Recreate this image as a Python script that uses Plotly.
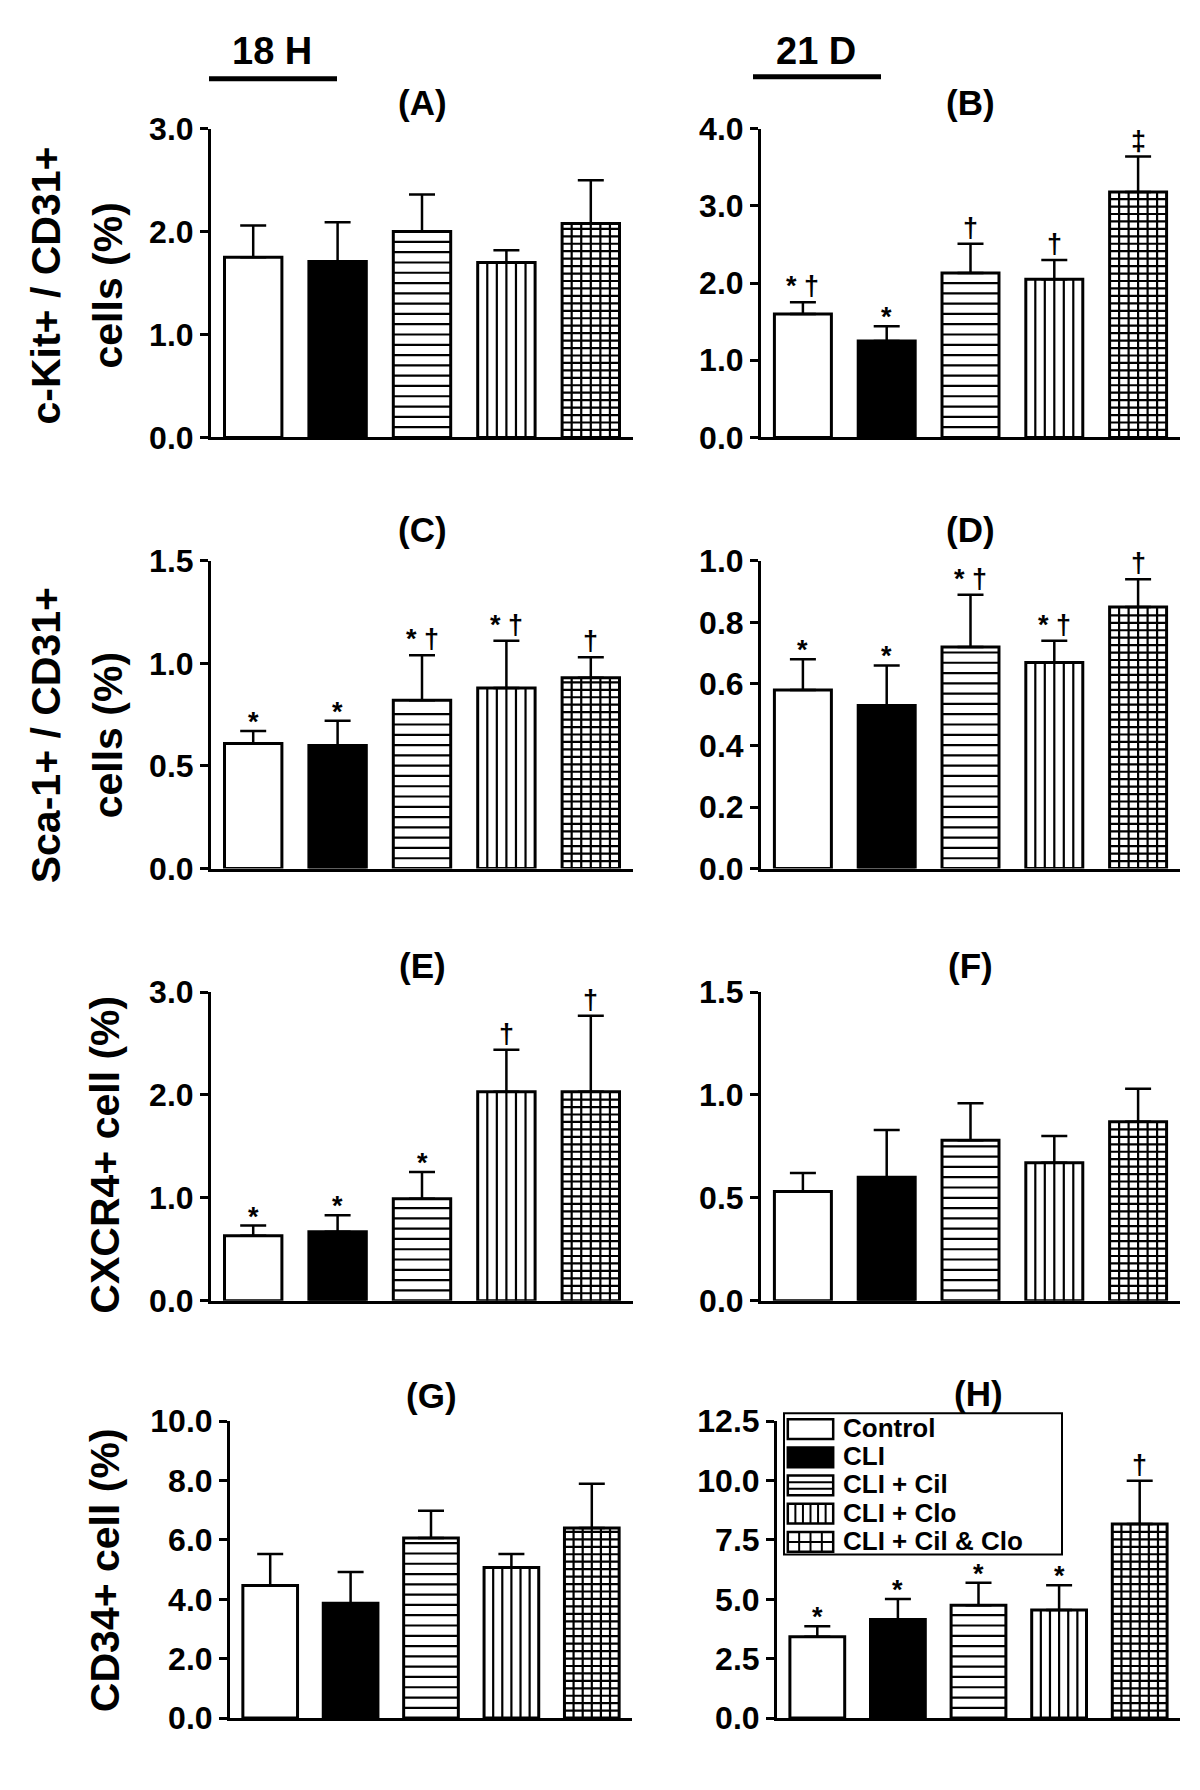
import plotly.graph_objects as go

# ---------------- data ----------------
groups = ["Control", "CLI", "CLI + Cil", "CLI + Clo", "CLI + Cil & Clo"]

A_mean = [1.75, 1.71, 2.00, 1.70, 2.08]
A_err = [0.31, 0.38, 0.36, 0.12, 0.42]
A_marks = ["", "", "", "", ""]

B_mean = [1.60, 1.25, 2.13, 2.05, 3.18]
B_err = [0.15, 0.19, 0.38, 0.25, 0.46]
B_marks = ["* \u2020", "*", "\u2020", "\u2020", "\u2021"]

C_mean = [0.61, 0.60, 0.82, 0.88, 0.93]
C_err = [0.06, 0.12, 0.22, 0.23, 0.10]
C_marks = ["*", "*", "* \u2020", "* \u2020", "\u2020"]

D_mean = [0.58, 0.53, 0.72, 0.67, 0.85]
D_err = [0.10, 0.13, 0.17, 0.07, 0.09]
D_marks = ["*", "*", "* \u2020", "* \u2020", "\u2020"]

E_mean = [0.63, 0.67, 0.99, 2.03, 2.03]
E_err = [0.10, 0.16, 0.26, 0.41, 0.74]
E_marks = ["*", "*", "*", "\u2020", "\u2020"]

F_mean = [0.53, 0.60, 0.78, 0.67, 0.87]
F_err = [0.09, 0.23, 0.18, 0.13, 0.16]
F_marks = ["", "", "", "", ""]

G_mean = [4.47, 3.87, 6.07, 5.07, 6.40]
G_err = [1.06, 1.05, 0.91, 0.46, 1.49]
G_marks = ["", "", "", "", ""]

H_mean = [3.43, 4.15, 4.75, 4.55, 8.17]
H_err = [0.44, 0.86, 0.95, 1.04, 1.82]
H_marks = ["*", "*", "*", "*", "\u2020"]

A_ticks = [0, 1, 2, 3]
B_ticks = [0, 1, 2, 3, 4]
C_ticks = [0, 0.5, 1.0, 1.5]
D_ticks = [0, 0.2, 0.4, 0.6, 0.8, 1.0]
E_ticks = [0, 1, 2, 3]
F_ticks = [0, 0.5, 1.0, 1.5]
G_ticks = [0, 2, 4, 6, 8, 10]
H_ticks = [0, 2.5, 5.0, 7.5, 10.0, 12.5]

panel_names = ["(A)", "(B)", "(C)", "(D)", "(E)", "(F)", "(G)", "(H)"]
row_titles = [["c-Kit+ / CD31+", "cells (%)"],
              ["Sca-1+ / CD31+", "cells (%)"],
              ["CXCR4+ cell (%)"],
              ["CD34+ cell (%)"]]
time_headers = ["18 H", "21 D"]

# ---------------- styles ----------------
W, H = 1200, 1790
FONT = "Liberation Sans, Arial, Helvetica, sans-serif"
fill_colors = ["white", "black", "white", "white", "white"]
hatch_kind = ["", "", "-", "|", "+"]   # horizontal lines, vertical lines, grid
HW = 0.34                              # half bar width (category units)
HATCH_W = 2.2


def fx(px):
    return px / W


def fy(px):
    return 1 - px / H


# pixel boxes (x0, x1, ytop, ybottom)
boxes = [
    (211, 633, 113, 428), (761, 1180, 113, 428),
    (211, 633, 554, 868), (761, 1180, 554, 868),
    (211, 633, 994, 1309), (761, 1180, 994, 1309),
    (230, 632, 1432, 1735), (777, 1180, 1432, 1735),
]
label_y = [86, 86, 522, 522, 967, 967, 1406, 1404]

panels = [
    (A_mean, A_err, A_marks, A_ticks),
    (B_mean, B_err, B_marks, B_ticks),
    (C_mean, C_err, C_marks, C_ticks),
    (D_mean, D_err, D_marks, D_ticks),
    (E_mean, E_err, E_marks, E_ticks),
    (F_mean, F_err, F_marks, F_ticks),
    (G_mean, G_err, G_marks, G_ticks),
    (H_mean, H_err, H_marks, H_ticks),
]

fig = go.Figure()
annotations = []
layout_axes = {}
xpos = list(range(len(groups)))

for i, (mean, err, marks, ticks) in enumerate(panels, start=1):
    sx = "" if i == 1 else str(i)
    xa, ya = "x" + sx, "y" + sx
    x0, x1, yt, yb = boxes[i - 1]
    ymax = ticks[-1]
    px_per_unit = (yb - yt) / ymax

    fig.add_trace(go.Bar(
        x=xpos, y=mean, width=2 * HW, xaxis=xa, yaxis=ya,
        marker=dict(color=fill_colors, line=dict(color="black", width=3)),
        error_y=dict(type="data", array=err, arrayminus=[0] * len(err), symmetric=False,
                     color="black", thickness=2.5, width=13),
        showlegend=False, hoverinfo="skip"))

    # hatching drawn inside the bars (derived from each bar's height)
    hx, hy = [], []
    for j, (m, kind) in enumerate(zip(mean, hatch_kind)):
        if kind in ("-", "+"):
            step = (10.5 if kind == "-" else 7.6) / px_per_unit
            yv = step
            while yv < m - 0.45 * step:
                hx += [j - HW, j + HW, None]
                hy += [yv, yv, None]
                yv += step
        if kind in ("|", "+"):
            for k in range(1, 6):
                xv = j - HW + k * (2 * HW / 6)
                hx += [xv, xv, None]
                hy += [0, m, None]
    fig.add_trace(go.Scatter(x=hx, y=hy, mode="lines", xaxis=xa, yaxis=ya,
                             line=dict(color="black", width=HATCH_W),
                             showlegend=False, hoverinfo="skip", cliponaxis=True))

    layout_axes["xaxis" + sx] = dict(
        domain=[fx(x0), fx(x1)], range=[-0.5, 4.5],
        showline=True, linecolor="black", linewidth=3, showticklabels=False,
        ticks="", showgrid=False, zeroline=False, anchor=ya, fixedrange=True)
    layout_axes["yaxis" + sx] = dict(
        domain=[fy(yb), fy(yt)], range=[0, ymax], tickvals=ticks, tickformat=".1f",
        ticks="outside", ticklen=8, tickwidth=2.5, tickcolor="black",
        showline=True, linecolor="black", linewidth=3, showgrid=False, zeroline=False,
        tickfont=dict(family=FONT, size=32, color="black", weight="bold"),
        anchor=xa, fixedrange=True)
    # significance marks
    for j, (m, e, t) in enumerate(zip(mean, err, marks)):
        if t:
            annotations.append(dict(
                x=j, y=m + e, xref=xa, yref=ya, text=t, showarrow=False,
                yanchor="bottom", xanchor="center", yshift=(-8 if t == "*" else -1),
                font=dict(family=FONT, size=27, color="black", weight="bold")))
    # panel label
    annotations.append(dict(
        x=fx((x0 + x1) / 2), y=fy(label_y[i - 1]), xref="paper", yref="paper",
        text=panel_names[i - 1], showarrow=False, xanchor="center", yanchor="middle",
        font=dict(family=FONT, size=35, color="black", weight="bold")))

# row titles (rotated)
title_pos = [[(46, 273), (108, 273)], [(46, 732), (108, 732)], [(105, 1160)], [(105, 1584)]]
for lines, poss in zip(row_titles, title_pos):
    for txt, (px, py) in zip(lines, poss):
        annotations.append(dict(
            x=fx(px), y=fy(py), xref="paper", yref="paper", text=txt, textangle=-90,
            showarrow=False, xanchor="center", yanchor="middle",
            font=dict(family=FONT, size=41, color="black", weight="bold")))

# time headers
for txt, cx in zip(time_headers, [272, 816]):
    annotations.append(dict(
        x=fx(cx), y=fy(34), xref="paper", yref="paper", text=txt, showarrow=False,
        xanchor="center", yanchor="middle",
        font=dict(family=FONT, size=38, color="black", weight="bold")))

shapes = [
    dict(type="line", xref="paper", yref="paper", x0=fx(209), x1=fx(337), y0=fy(62), y1=fy(62),
         line=dict(color="black", width=5)),
    dict(type="line", xref="paper", yref="paper", x0=fx(753), x1=fx(881), y0=fy(60), y1=fy(60),
         line=dict(color="black", width=5)),
    # legend frame
    dict(type="rect", xref="paper", yref="paper", x0=fx(784), x1=fx(1062), y0=fy(1568), y1=fy(1424),
         line=dict(color="black", width=2), fillcolor="white", layer="below"),
]

# legend swatches drawn as bars in a small auxiliary axis
leg_idx = list(range(len(groups)))
SW = 0.35
fig.add_trace(go.Bar(
    x=[1] * len(groups), y=leg_idx, orientation="h", width=2 * SW, base=0,
    xaxis="x9", yaxis="y9",
    marker=dict(color=fill_colors, line=dict(color="black", width=2.5)),
    showlegend=False, hoverinfo="skip"))
lx, ly = [], []
for k, kind in enumerate(hatch_kind):
    if kind == "-":
        for off in (-SW / 3, SW / 3):
            lx += [0, 1, None]
            ly += [k + off, k + off, None]
    if kind == "|":
        for q in range(1, 6):
            lx += [q / 6, q / 6, None]
            ly += [k - SW, k + SW, None]
    if kind == "+":
        for q in range(1, 4):
            lx += [q / 4, q / 4, None]
            ly += [k - SW, k + SW, None]
        lx += [0, 1, None]
        ly += [k, k, None]
fig.add_trace(go.Scatter(x=lx, y=ly, mode="lines", xaxis="x9", yaxis="y9",
                         line=dict(color="black", width=2), showlegend=False, hoverinfo="skip"))
layout_axes["xaxis9"] = dict(domain=[fx(786), fx(835)], range=[-0.04, 1.04], visible=False,
                             anchor="y9", fixedrange=True)
layout_axes["yaxis9"] = dict(domain=[fy(1569.6), fy(1425.6)], range=[4.5, -0.5], visible=False,
                             anchor="x9", fixedrange=True)
for k, g in enumerate(groups):
    annotations.append(dict(
        x=fx(841), y=k, xref="paper", yref="y9", text=g, showarrow=False,
        xanchor="left", yanchor="middle", yshift=1,
        font=dict(family=FONT, size=26, color="black", weight="bold")))

fig.update_layout(
    width=W, height=H, margin=dict(l=0, r=0, t=0, b=0),
    paper_bgcolor="white", plot_bgcolor="rgba(0,0,0,0)",
    font=dict(family=FONT, color="black"),
    annotations=annotations, shapes=shapes, showlegend=False,
    **layout_axes)

fig.write_html("out.html", config={"displayModeBar": False},
               post_script="document.body.style.margin='0';document.body.style.overflow='hidden';")
